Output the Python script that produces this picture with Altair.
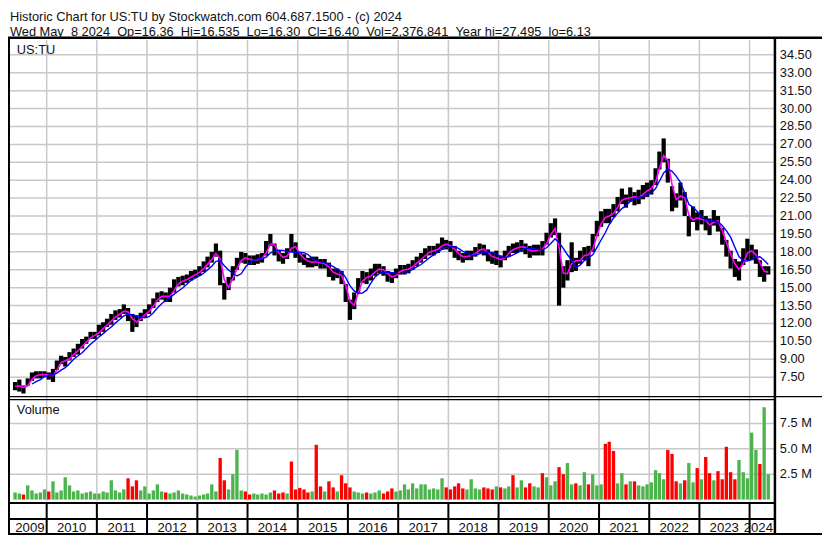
import altair as alt
import pandas as pd
import numpy as np

# ---------------- data ----------------
# monthly bars, May 2009 .. May 2024
price_lo = [
    6.4, 6.3, 6.13, 6.8, 7.2, 7.4, 7.4, 7.5,                                   # 2009 (May-Dec)
    7.3, 7.1, 8.1, 8.6, 8.4, 8.9, 9.2, 9.4, 9.9, 10.3, 10.7, 10.7,             # 2010
    11.0, 11.3, 11.7, 11.9, 12.3, 12.5, 12.8, 12.2, 11.3, 11.7, 12.2, 12.5,    # 2011
    12.8, 13.3, 13.8, 14.0, 13.8, 13.8, 14.6, 15.1, 15.2, 15.4, 15.6, 15.8,    # 2012
    16.0, 16.3, 16.7, 17.1, 17.6, 15.2, 14.0, 14.8, 15.6, 16.5, 17.1, 17.0,    # 2013
    16.9, 16.9, 17.0, 17.1, 17.7, 18.5, 17.7, 17.2, 17.0, 17.4, 18.0, 17.5,    # 2014
    17.1, 16.9, 16.7, 16.7, 16.8, 16.6, 16.6, 15.9, 15.6, 15.8, 15.3, 13.8,    # 2015
    12.3, 13.2, 14.6, 15.4, 15.3, 15.6, 16.0, 16.2, 16.0, 15.5, 15.4, 15.8,    # 2016
    16.1, 16.1, 16.2, 16.5, 16.8, 17.1, 17.4, 17.7, 17.7, 17.9, 18.2, 18.2,    # 2017
    18.0, 17.5, 17.3, 17.1, 17.3, 17.3, 17.6, 17.9, 17.7, 17.2, 17.0, 16.9,    # 2018
    16.7, 17.3, 17.6, 17.9, 17.9, 18.0, 17.8, 17.5, 17.7, 17.7, 17.7, 18.6,    # 2019
    19.2, 19.4, 13.5, 15.0, 15.6, 16.3, 16.4, 17.0, 17.3, 16.8, 18.0, 19.3,    # 2020
    20.1, 20.4, 20.4, 20.9, 21.4, 22.0, 21.7, 22.2, 21.9, 22.0, 22.4, 22.6,    # 2021
    22.8, 23.6, 24.9, 25.5, 23.8, 21.4, 21.7, 22.3, 21.0, 19.3, 20.5, 19.8,    # 2022
    20.3, 19.8, 19.4, 20.2, 19.7, 18.6, 17.6, 16.6, 15.9, 15.6, 16.9, 17.3,    # 2023
    17.3, 17.0, 15.9, 15.5, 16.1,                                              # 2024 (Jan-May)
]
price_hi = [
    7.1, 7.3, 6.8, 7.4, 7.9, 8.0, 8.0, 8.0,
    7.9, 8.2, 8.9, 9.3, 9.2, 9.6, 9.9, 10.3, 10.7, 10.9, 11.3, 11.3,
    11.9, 12.1, 12.4, 12.8, 13.1, 13.2, 13.6, 13.3, 12.8, 12.7, 12.9, 13.2,
    13.6, 14.1, 14.6, 14.7, 14.6, 15.0, 15.7, 15.9, 16.0, 16.1, 16.4, 16.5,
    16.8, 17.2, 17.6, 18.0, 18.7, 18.1, 15.4, 15.9, 16.8, 17.5, 18.0, 17.9,
    17.7, 17.7, 17.8, 17.9, 18.9, 19.5, 18.7, 18.1, 17.9, 18.3, 19.5, 18.8,
    18.0, 17.8, 17.5, 17.6, 17.6, 17.4, 17.4, 17.1, 16.6, 16.6, 16.4, 15.3,
    14.0, 14.6, 15.8, 16.4, 16.3, 16.6, 17.0, 17.0, 16.8, 16.4, 16.3, 16.6,
    16.9, 16.9, 17.0, 17.3, 17.6, 17.9, 18.3, 18.5, 18.5, 18.7, 19.2, 19.0,
    18.9, 18.5, 18.1, 17.9, 18.1, 18.1, 18.4, 18.7, 18.6, 18.2, 18.0, 18.1,
    17.7, 18.1, 18.5, 18.7, 18.8, 19.0, 18.7, 18.5, 18.6, 18.6, 18.9, 19.6,
    20.4, 20.8, 19.6, 16.8, 17.3, 18.8, 17.5, 18.1, 18.4, 18.5, 19.5, 20.6,
    21.4, 21.6, 21.6, 22.0, 22.6, 23.3, 22.8, 23.4, 23.0, 23.2, 23.6, 23.8,
    24.0, 25.0, 26.4, 27.5, 25.8, 23.5, 22.9, 23.8, 23.0, 21.0, 21.8, 21.3,
    21.5, 21.0, 20.8, 21.5, 21.0, 20.0, 19.0, 18.1, 17.4, 17.2, 18.3, 19.1,
    18.6, 18.2, 17.3, 16.8, 16.8,
]
volume_m = [
    0.7, 0.6, 0.5, 1.4, 0.9, 0.6, 0.7, 1.0,
    0.8, 1.8, 0.7, 0.9, 2.2, 1.4, 0.8, 0.9, 0.6, 0.7, 0.8, 0.6,
    0.6, 0.8, 0.7, 1.9, 0.9, 0.7, 1.0, 2.1, 1.3, 1.9, 0.9, 1.3,
    0.6, 0.9, 1.5, 0.8, 0.7, 0.6, 0.7, 0.9, 0.6, 0.5, 0.4, 0.3,
    0.4, 0.5, 0.6, 1.5, 0.8, 4.1, 1.9, 1.0, 2.5, 4.9, 0.9, 0.8,
    0.5, 0.6, 0.5, 0.6, 0.5, 0.7, 0.9, 0.6, 0.7, 0.6, 3.75, 1.0,
    1.15, 1.0, 0.7, 0.8, 5.4, 1.3, 0.8, 1.8, 1.2, 0.8, 2.4, 1.6,
    1.2, 0.8, 0.7, 0.6, 0.7, 0.6, 0.7, 0.9, 0.6, 0.8, 1.1, 0.8,
    0.9, 1.5, 1.0, 1.6, 1.1, 1.5, 1.5, 1.0, 1.1, 1.0, 2.1, 1.2,
    1.0, 1.3, 1.6, 1.1, 1.0, 2.0, 1.1, 1.0, 1.2, 1.1, 1.0, 1.3,
    1.2, 1.1, 1.3, 2.4, 1.2, 1.9, 1.2, 1.6, 1.3, 1.2, 2.6, 2.2,
    1.4, 1.8, 3.2, 2.5, 3.6, 1.5, 1.6, 1.4, 2.7, 1.5, 2.5, 1.4,
    1.5, 5.5, 5.7, 4.8, 1.6, 2.6, 1.5, 1.8, 1.8, 1.4, 1.3, 1.5,
    1.7, 2.9, 2.6, 2.0, 4.9, 4.5, 1.8, 1.6, 1.9, 3.6, 1.7, 3.1,
    2.0, 4.2, 2.6, 1.9, 2.8, 2.0, 5.2, 2.7, 2.0, 3.9, 2.7, 2.1,
    6.6, 4.9, 3.5, 9.1, 2.5,
]
# bar colours of the tall volume bars as seen in the picture (others follow price direction)
volume_colour_seen = {
    "2010-05": "up", "2011-04": "up", "2011-08": "down", "2011-10": "down",
    "2013-06": "down", "2013-07": "down", "2013-09": "up", "2013-10": "up",
    "2014-11": "down", "2015-05": "down", "2015-11": "down",
    "2019-04": "down", "2019-11": "down", "2020-03": "down", "2020-05": "up",
    "2021-02": "down", "2021-03": "down", "2021-04": "down",
    "2022-02": "up", "2022-05": "down", "2022-06": "down", "2022-10": "up",
    "2022-12": "down", "2023-02": "down", "2023-07": "down", "2023-10": "up",
    "2024-01": "up", "2024-02": "up", "2024-04": "up",
}
price_ticks = [7.5, 9.0, 10.5, 12.0, 13.5, 15.0, 16.5, 18.0, 19.5, 21.0,
               22.5, 24.0, 25.5, 27.0, 28.5, 30.0, 31.5, 33.0, 34.5]
volume_ticks = [2.5, 5.0, 7.5]
year_starts = [f"{y}-01-01" for y in range(2010, 2025)]
year_labels = [str(y) for y in range(2009, 2025)]
year_label_dates = ["2009-09-01"] + [f"{y}-07-01" for y in range(2010, 2024)] + ["2024-03-05"]

header1 = "Historic Chart for US:TU by Stockwatch.com 604.687.1500 - (c) 2024"
header2 = ("Wed May \u00a08 2024 \u00a0Op=16.36 \u00a0Hi=16.535 \u00a0Lo=16.30 \u00a0Cl=16.40"
           " \u00a0Vol=2,376,841 \u00a0Year hi=27.495 \u00a0lo=6.13")

# ---------------- layout ----------------
W, H = 814, 527
SX, SY = W / 830, H / 543
def px(x): return x * SX
def py(y): return y * SY

PW = px(782)

FONT = "Liberation Sans, Arial, sans-serif"
FS = 12.8
GRID = "#c8c8c8"
GREEN = "#4db34d"
RED = "#ff0000"
INK = "#111111"

months = pd.date_range("2009-05-01", periods=len(price_lo), freq="MS")
df = pd.DataFrame({
    "date": (months + pd.Timedelta(days=15)).strftime("%Y-%m-%d"),
    "lo": price_lo, "hi": price_hi, "vol": volume_m,
})
mid = (df["lo"] + df["hi"]) / 2
direction = pd.Series(np.where(mid.diff().fillna(0) >= 0, "up", "down"))
seen = pd.Series(months.strftime("%Y-%m")).map(volume_colour_seen)
df["dir"] = seen.fillna(direction)

xs = alt.Scale(domain=[alt.DateTime(year=2009, month=5, date=1, utc=True),
                       alt.DateTime(year=2024, month=5, date=28, utc=True)],
               range=[0, PW])
ys_p = alt.Scale(domain=[5.91, 35.74], range=[py(400), py(33)], zero=False, nice=False)
ys_v = alt.Scale(domain=[0, 9.9], range=[py(506.5), py(403)], zero=False, nice=False)

dummy = pd.DataFrame({"a": [0]})

def hline(y, x1, x2, w=1.0, color="black"):
    return alt.Chart(dummy).mark_rule(color=color, strokeWidth=w).encode(
        x=alt.value(px(x1)), x2=alt.value(px(x2)), y=alt.value(py(y)))

def vline(x, y1, y2, w=1.0, color="black"):
    return alt.Chart(dummy).mark_rule(color=color, strokeWidth=w).encode(
        x=alt.value(px(x)), y=alt.value(py(y1)), y2=alt.value(py(y2)))

def label(txt, x, y):
    return alt.Chart(dummy).mark_text(align="left", baseline="alphabetic", font=FONT,
                                      fontSize=FS, color=INK).encode(
        x=alt.value(px(x)), y=alt.value(py(y)), text=alt.value(txt))

# vertical gray grid, year separators and year labels
ydf = pd.DataFrame({"d": year_starts})
vgrid = alt.Chart(ydf).mark_rule(color=GRID, strokeWidth=1.5).encode(
    x=alt.X("d:T", scale=xs, axis=None), y=alt.value(py(33)), y2=alt.value(py(508)))
vstrip = alt.Chart(ydf).mark_rule(color="black", strokeWidth=2).encode(
    x=alt.X("d:T", scale=xs, axis=None), y=alt.value(py(510)), y2=alt.value(py(542)))
ylabels = alt.Chart(pd.DataFrame({"d": year_label_dates, "t": year_labels})).mark_text(
    font=FONT, fontSize=13.2, color=INK, align="center", baseline="alphabetic").encode(
    x=alt.X("d:T", scale=xs, axis=None), y=alt.value(py(539.5)), text="t:N")

# price panel
pt = pd.DataFrame({"p": price_ticks, "t": [f"{v:.2f}" for v in price_ticks]})
pgrid = alt.Chart(pt).mark_rule(color=GRID, strokeWidth=1.5).encode(
    y=alt.Y("p:Q", scale=ys_p, axis=None), x=alt.value(0), x2=alt.value(PW))
plabels = alt.Chart(pt).mark_text(font=FONT, fontSize=FS, color=INK, align="left",
                                  baseline="middle").encode(
    y=alt.Y("p:Q", scale=ys_p, axis=None), x=alt.value(px(787)), text="t:N")
pbars = alt.Chart(df).mark_bar(color="black", size=px(4.3)).encode(
    x=alt.X("date:T", scale=xs, axis=None),
    y=alt.Y("lo:Q", scale=ys_p, axis=None), y2="hi:Q")
base_ma = alt.Chart(df).transform_calculate(mid="(datum.lo + datum.hi) / 2")
ma_fast = base_ma.transform_window(ma="mean(mid)", frame=[-1, 0]).mark_line(
    color="#ff00ff", strokeWidth=1.6).encode(
    x=alt.X("date:T", scale=xs, axis=None), y=alt.Y("ma:Q", scale=ys_p, axis=None))
ma_slow = base_ma.transform_window(ma="mean(mid)", cnt="count()", frame=[-4, 0]).transform_filter(
    "datum.cnt >= 5").mark_line(color="#0000ff", strokeWidth=1.4).encode(
    x=alt.X("date:T", scale=xs, axis=None), y=alt.Y("ma:Q", scale=ys_p, axis=None))
price_layer = alt.layer(pgrid, plabels, pbars, ma_fast, ma_slow)

# volume panel
vt = pd.DataFrame({"v": volume_ticks, "t": [f"{v:.1f} M" for v in volume_ticks]})
vgrid_h = alt.Chart(vt).mark_rule(color=GRID, strokeWidth=1.5).encode(
    y=alt.Y("v:Q", scale=ys_v, axis=None), x=alt.value(0), x2=alt.value(PW))
vlabels = alt.Chart(vt).mark_text(font=FONT, fontSize=FS, color=INK, align="left",
                                  baseline="middle").encode(
    y=alt.Y("v:Q", scale=ys_v, axis=None), x=alt.value(px(787)), text="t:N")
vbars = alt.Chart(df).mark_bar(size=px(3.4)).encode(
    x=alt.X("date:T", scale=xs, axis=None),
    y=alt.Y("vol:Q", scale=ys_v, axis=None),
    color=alt.Color("dir:N", scale=alt.Scale(domain=["up", "down"], range=[GREEN, RED]), legend=None))
volume_layer = alt.layer(vgrid_h, vlabels, vbars)

frame = [
    hline(30.7, 0, 830, 2.5),
    hline(400.5, 0, 830, 1.2),
    hline(403.5, 0, 782, 1.2),
    hline(510, 0, 782, 2),
    hline(526.5, 0, 782, 2),
    hline(542, 0, 830, 2),
    vline(1, 31, 543, 2),
    vline(782, 31, 543, 2.5),
]
texts = [label(header1, 2, 13.5), label(header2, 2, 28.5), label("US:TU", 9, 47),
         label("Volume", 9, 418)]

chart = alt.layer(vgrid, price_layer, volume_layer, vstrip, ylabels, *frame, *texts).resolve_scale(
    y="independent").properties(
    width=W, height=H, autosize=alt.AutoSizeParams(type="none"), padding=0,
    background="white").configure_view(stroke=None)

chart.save("out.html", embed_options={"renderer": "svg", "actions": False})
